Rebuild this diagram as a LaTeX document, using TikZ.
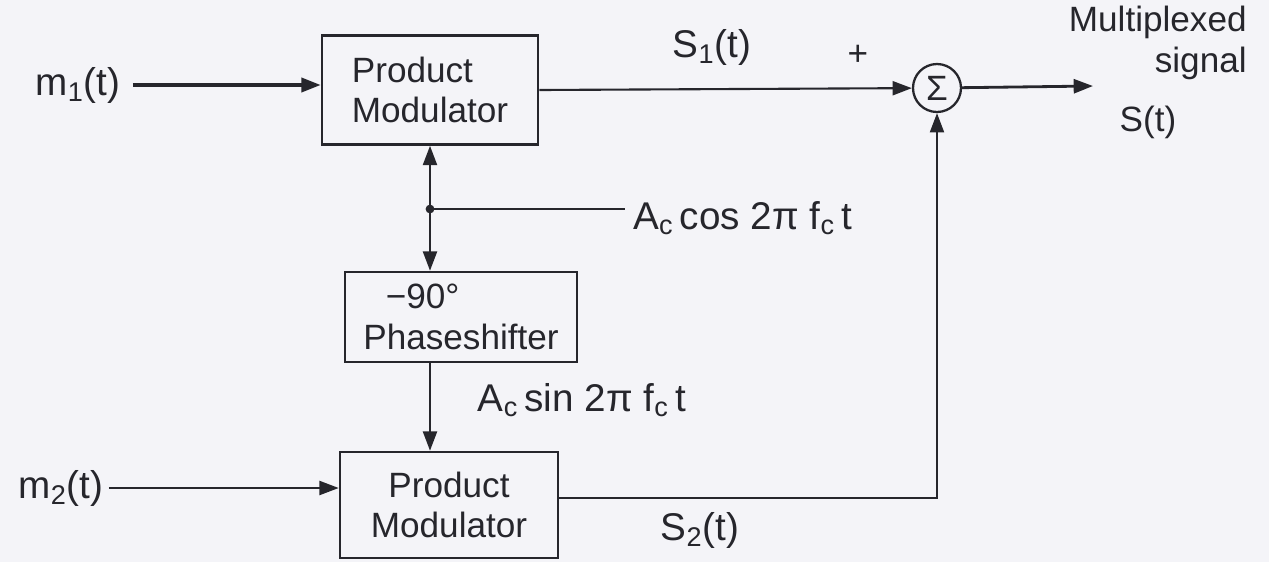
\documentclass[tikz,border=0pt]{standalone}
\usepackage{fontspec}
\setmainfont{Liberation Sans}
\usetikzlibrary{arrows.meta}
\definecolor{ink}{RGB}{38,38,44}
\definecolor{bg}{RGB}{244,244,248}
\begin{document}
\begin{tikzpicture}[x=0.02cm,y=-0.02cm,
  font=\fontsize{20}{23}\selectfont,
  box/.style={draw=ink, line width=1.5pt, inner sep=0pt, text=ink},
  conn/.style={draw=ink, line width=1.2pt},
  arr/.style={conn, -{Triangle[length=11pt,width=8pt]}},
  lbl/.style={text=ink, inner sep=0pt},
  widelbl/.style={lbl, font=\fontsize{22}{25}\selectfont},
]
\useasboundingbox[fill=bg] (0,0) rectangle (1269,562);

% blocks
\node[box, align=left, minimum width=4.32cm, minimum height=2.18cm] (pm1) at (430,90) {Product\\Modulator};
\node[box, align=left, minimum width=4.64cm, minimum height=1.8cm] (ps) at (461,317) {\hspace*{0.45cm}−90°\\Phaseshifter};
\node[box, align=center, minimum width=4.36cm, minimum height=2.12cm] (pm2) at (449,505) {Product\\Modulator};
\node[draw=ink, circle, line width=1.3pt, minimum size=0.96cm, inner sep=0pt, text=ink] (sum) at (937,88) {Σ};

% labels
\node[widelbl] (m1) at (78,85) {m\textsubscript{1}(t)};
\node[widelbl] (m2) at (61,488) {m\textsubscript{2}(t)};
\node[widelbl] (s1) at (712,47) {S\textsubscript{1}(t)};
\node[lbl] (plus) at (858,55) {+};
\node[lbl, align=right, anchor=east] (mux) at (1247,43) {Multiplexed\\signal};
\node[lbl] (st) at (1148,122) {S(t)};
\node[widelbl, anchor=west] (cos) at (633,218) {A\textsubscript{c}\,cos 2π f\textsubscript{c}\,t};
\node[widelbl] (sin) at (582,400) {A\textsubscript{c}\,sin 2π f\textsubscript{c}\,t};
\node[widelbl] (s2) at (700,530) {S\textsubscript{2}(t)};

% free ends
\coordinate (j) at (430,209);
\coordinate (cosend) at (625,209);
\coordinate (out) at (1093,86);
\coordinate (c2) at (937,498);

% connectors
\draw[arr, line width=2pt, shorten <=7pt] (m1.east) -- (pm1.west |- m1.east);
\draw[arr, shorten <=3pt] (m2.east) -- (pm2.west |- m2.east);
\draw[arr] (pm1.east) -- (sum);
\draw[arr, line width=1.6pt] (sum) -- (out);
\draw[arr] (j) -- (pm1.south -| j);
\draw[arr] (j) -- (ps.north -| j);
\draw[conn] (j) -- (cosend);
\fill[ink] (j) circle (2.5pt);
\draw[arr] (ps.south -| j) -- (pm2.north -| j);
\draw[arr] (pm2.east |- c2) -- (c2) -- (sum.south);
\end{tikzpicture}
\end{document}
